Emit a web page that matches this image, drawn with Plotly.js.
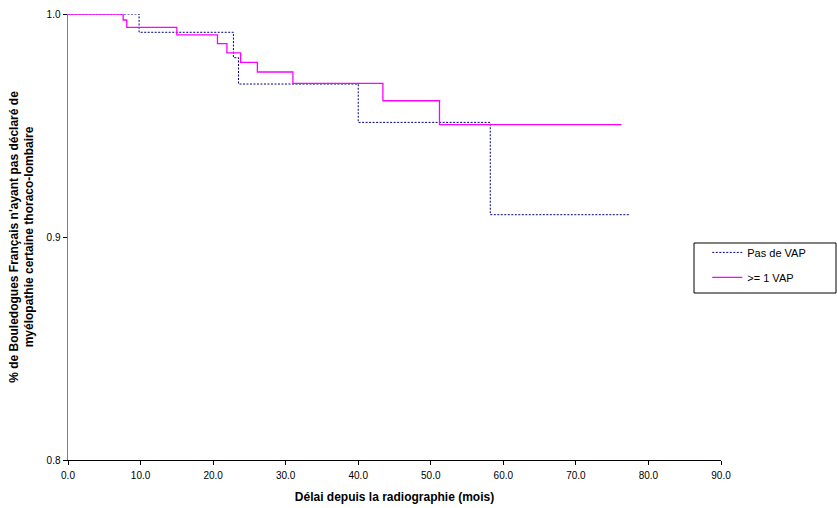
<!DOCTYPE html>
<html>
<head>
<meta charset="utf-8">
<script src="https://cdn.plot.ly/plotly-3.0.1.min.js"></script>
<style>html,body{margin:0;padding:0;background:#fff;}#chart{width:837px;height:508px;}</style>
</head>
<body>
<div id="chart"></div>
<script>
// Months since radiography and survival proportion (step curves)
const seriesNames = ["Pas de VAP", ">= 1 VAP"];
const noVapMonths = [0, 9.8, 22.8, 23.5, 40.0, 58.2, 77.4];
const noVapSurv   = [1.0, 0.9918, 0.9804, 0.9686, 0.9514, 0.910, 0.910];
const vapMonths   = [0, 7.6, 8.1, 15.0, 20.6, 21.9, 23.8, 26.1, 31.0, 43.4, 51.2, 76.3];
const vapSurv     = [1.0, 0.9973, 0.9940, 0.9906, 0.9867, 0.9826, 0.9783, 0.9740, 0.9689, 0.9611, 0.9504, 0.9504];
const xTickVals = [0, 10, 20, 30, 40, 50, 60, 70, 80, 90];
const yTickVals = [0.8, 0.9, 1.0];

const font = "Liberation Sans, Arial, sans-serif";

const traces = [
  {x: noVapMonths, y: noVapSurv, name: seriesNames[0], mode: "lines", legendgroup: "a",
   line: {shape: "hv", color: "#000080", width: 1, dash: "2px,1.5px"}},
  {x: vapMonths, y: vapSurv, name: seriesNames[1], mode: "lines", legendgroup: "b",
   line: {shape: "hv", color: "#FF00FF", width: 1.3}}
];

const layout = {
  width: 837, height: 508,
  margin: {l: 68, r: 116, t: 14, b: 48},
  paper_bgcolor: "#fff", plot_bgcolor: "#fff",
  font: {family: font, size: 10, color: "#000"},
  showlegend: true,
  legend: {
    x: 0.979, y: 0.498, xanchor: "left", yanchor: "top",
    bgcolor: "rgba(0,0,0,0)", borderwidth: 0,
    font: {family: font, size: 11, color: "#000"},
    traceorder: "grouped", tracegroupgap: 6
  },
  xaxis: {
    range: [0, 90], tickvals: xTickVals, tickformat: ".1f",
    showgrid: false, zeroline: false, showline: true, linecolor: "#000", linewidth: 1,
    ticks: "outside", ticklen: 4, tickcolor: "#000", ticklabelstandoff: 2,
    tickfont: {family: font, size: 10},
    title: {text: "<b>Délai depuis la radiographie (mois)</b>", font: {family: font, size: 12}, standoff: 12}
  },
  yaxis: {
    range: [0.8, 1.0], tickvals: yTickVals, tickformat: ".1f",
    showgrid: false, zeroline: false, showline: true, linecolor: "#808080", linewidth: 1.5,
    ticks: "outside", ticklen: 4, tickcolor: "#000",
    tickfont: {family: font, size: 10},
    title: {text: "<b>% de Bouledogues Français n'ayant pas déclaré de<br>myélopathie certaine thoraco-lombaire</b>", font: {family: font, size: 12}, standoff: 10}
  },
  shapes: [
    {type: "rect", xref: "paper", yref: "paper",
     x0: (694 - 68) / 653, x1: (836 - 68) / 653, y0: (460 - 293) / 446, y1: (460 - 243) / 446,
     line: {color: "#000", width: 1}, fillcolor: "rgba(0,0,0,0)"}
  ]
};

Plotly.newPlot("chart", traces, layout, {displayModeBar: false, staticPlot: true});
</script>
</body>
</html>
